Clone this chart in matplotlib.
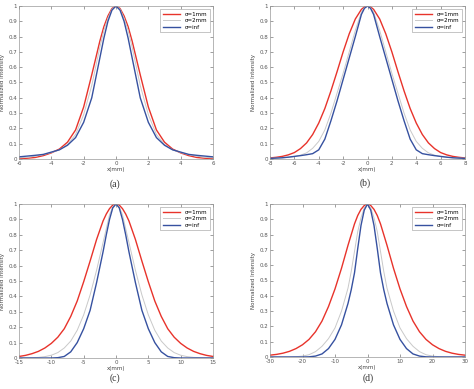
import matplotlib
matplotlib.use("Agg")
import matplotlib.pyplot as plt

xa = [-6, -5.5, -5, -4.5, -4, -3.5, -3, -2.5, -2, -1.5, -1, -0.75, -0.5, -0.25, 0,
      0.25, 0.5, 0.75, 1, 1.5, 2, 2.5, 3, 3.5, 4, 4.5, 5, 5.5, 6]
red_a = [0.002, 0.005, 0.01, 0.022, 0.04, 0.065, 0.11, 0.19, 0.34, 0.55, 0.77, 0.865, 0.935, 0.984, 1.0,
         0.984, 0.935, 0.865, 0.77, 0.55, 0.34, 0.19, 0.11, 0.065, 0.04, 0.022, 0.01, 0.005, 0.002]
gray_a = [0.007, 0.011, 0.018, 0.028, 0.042, 0.06, 0.095, 0.16, 0.29, 0.48, 0.73, 0.84, 0.92, 0.98, 1.0,
          0.98, 0.92, 0.84, 0.73, 0.48, 0.29, 0.16, 0.095, 0.06, 0.042, 0.028, 0.018, 0.011, 0.007]
blue_a = [0.014, 0.019, 0.024, 0.03, 0.045, 0.06, 0.09, 0.14, 0.24, 0.40, 0.66, 0.79, 0.90, 0.973, 1.0,
          0.973, 0.90, 0.79, 0.66, 0.40, 0.24, 0.14, 0.09, 0.06, 0.045, 0.03, 0.024, 0.019, 0.014]

xb = [-8, -7.5, -7, -6.5, -6, -5.5, -5, -4.5, -4, -3.5, -3, -2.5, -2, -1.5, -1, -0.5, -0.25, 0,
      0.25, 0.5, 1, 1.5, 2, 2.5, 3, 3.5, 4, 4.5, 5, 5.5, 6, 6.5, 7, 7.5, 8]
red_b = [0.007, 0.011, 0.017, 0.027, 0.042, 0.068, 0.105, 0.16, 0.235, 0.33, 0.445, 0.57, 0.70, 0.818, 0.915, 0.978, 0.994, 1.0,
         0.994, 0.978, 0.915, 0.818, 0.70, 0.57, 0.445, 0.33, 0.235, 0.16, 0.105, 0.068, 0.042, 0.027, 0.017, 0.011, 0.007]
gray_b = [0.005, 0.006, 0.008, 0.011, 0.016, 0.025, 0.04, 0.07, 0.115, 0.19, 0.30, 0.43, 0.56, 0.70, 0.84, 0.96, 0.99, 1.0,
          0.99, 0.96, 0.84, 0.70, 0.56, 0.43, 0.30, 0.19, 0.115, 0.07, 0.04, 0.025, 0.016, 0.011, 0.008, 0.006, 0.005]
blue_b = [0.004, 0.006, 0.008, 0.012, 0.017, 0.022, 0.028, 0.035, 0.06, 0.13, 0.25, 0.38, 0.52, 0.66, 0.80, 0.945, 0.985, 1.0,
          0.985, 0.945, 0.80, 0.66, 0.52, 0.38, 0.25, 0.13, 0.06, 0.035, 0.028, 0.022, 0.017, 0.012, 0.008, 0.006, 0.004]

xc = [-15, -14, -13, -12, -11, -10, -9, -8, -7, -6, -5, -4, -3, -2, -1.5, -1, -0.5, 0,
      0.5, 1, 1.5, 2, 3, 4, 5, 6, 7, 8, 9, 10, 11, 12, 13, 14, 15]
red_c = [0.01, 0.017, 0.028, 0.043, 0.065, 0.095, 0.135, 0.19, 0.27, 0.37, 0.495, 0.63, 0.77, 0.89, 0.935, 0.97, 0.993, 1.0,
         0.993, 0.97, 0.935, 0.89, 0.77, 0.63, 0.495, 0.37, 0.27, 0.19, 0.135, 0.095, 0.065, 0.043, 0.028, 0.017, 0.01]
gray_c = [0.0, 0.001, 0.002, 0.004, 0.009, 0.018, 0.035, 0.065, 0.11, 0.18, 0.28, 0.41, 0.57, 0.75, 0.84, 0.93, 0.982, 1.0,
          0.982, 0.93, 0.84, 0.75, 0.57, 0.41, 0.28, 0.18, 0.11, 0.065, 0.035, 0.018, 0.009, 0.004, 0.002, 0.001, 0.0]
blue_c = [0.0, 0.0, 0.0, 0.0, 0.0, 0.0, 0.002, 0.01, 0.04, 0.10, 0.19, 0.31, 0.49, 0.69, 0.80, 0.90, 0.975, 1.0,
          0.975, 0.90, 0.80, 0.69, 0.49, 0.31, 0.19, 0.10, 0.04, 0.01, 0.002, 0.0, 0.0, 0.0, 0.0, 0.0, 0.0]

xd = [-30, -28, -26, -24, -22, -20, -18, -16, -14, -12, -10, -8, -6, -5, -4, -3, -2, -1, 0,
      1, 2, 3, 4, 5, 6, 8, 10, 12, 14, 16, 18, 20, 22, 24, 26, 28, 30]
red_d = [0.012, 0.017, 0.025, 0.037, 0.055, 0.08, 0.115, 0.165, 0.235, 0.33, 0.445, 0.58, 0.73, 0.80, 0.87, 0.925, 0.965, 0.99, 1.0,
         0.99, 0.965, 0.925, 0.87, 0.80, 0.73, 0.58, 0.445, 0.33, 0.235, 0.165, 0.115, 0.08, 0.055, 0.037, 0.025, 0.017, 0.012]
gray_d = [0.0, 0.0, 0.0, 0.0, 0.002, 0.006, 0.015, 0.035, 0.07, 0.12, 0.19, 0.30, 0.45, 0.56, 0.69, 0.82, 0.91, 0.975, 1.0,
          0.975, 0.91, 0.82, 0.69, 0.56, 0.45, 0.30, 0.19, 0.12, 0.07, 0.035, 0.015, 0.006, 0.002, 0.0, 0.0, 0.0, 0.0]
blue_d = [0.0, 0.0, 0.0, 0.0, 0.0, 0.0, 0.001, 0.006, 0.02, 0.055, 0.115, 0.21, 0.35, 0.44, 0.55, 0.71, 0.86, 0.96, 1.0,
          0.96, 0.86, 0.71, 0.55, 0.44, 0.35, 0.21, 0.115, 0.055, 0.02, 0.006, 0.001, 0.0, 0.0, 0.0, 0.0, 0.0, 0.0]

panels = [
    ("(a)", xa, red_a, gray_a, blue_a, 6, [-6, -4, -2, 0, 2, 4, 6]),
    ("(b)", xb, red_b, gray_b, blue_b, 8, [-8, -6, -4, -2, 0, 2, 4, 6, 8]),
    ("(c)", xc, red_c, gray_c, blue_c, 15, [-15, -10, -5, 0, 5, 10, 15]),
    ("(d)", xd, red_d, gray_d, blue_d, 30, [-30, -20, -10, 0, 10, 20, 30]),
]
labels = ["σ=1mm", "σ=2mm", "σ=inf"]
yticks = [0, 0.1, 0.2, 0.3, 0.4, 0.5, 0.6, 0.7, 0.8, 0.9, 1]
ytl = ["0", "0.1", "0.2", "0.3", "0.4", "0.5", "0.6", "0.7", "0.8", "0.9", "1"]

W, H = 474, 389
boxes = [(19, 6, 213, 159), (270, 6, 465, 159), (19, 204, 213, 358), (270, 204, 465, 357)]
tags = [(115, 184), (365, 183), (115, 378), (368, 378)]

fig = plt.figure(figsize=(W / 100, H / 100), dpi=100)
for (tag, x, r, g, b, lim, xt), (l, t, rr, bb), (tx, ty) in zip(panels, boxes, tags):
    ax = fig.add_axes([l / W, 1 - bb / H, (rr - l) / W, (bb - t) / H])
    ax.plot(x, r, color="#e8332b", lw=1.0, label=labels[0])
    ax.plot(x, g, color="#c9c9c9", lw=0.7, label=labels[1])
    ax.plot(x, b, color="#3651a0", lw=1.0, label=labels[2])
    ax.set_xlim(-lim, lim); ax.set_ylim(0, 1)
    ax.set_xticks(xt); ax.set_xticklabels([str(v) for v in xt])
    ax.set_yticks(yticks); ax.set_yticklabels(ytl)
    ax.tick_params(direction="in", length=2, width=0.4, labelsize=4,
                   colors="#555555", pad=1.5, top=True, right=True)
    for s in ax.spines.values():
        s.set_linewidth(0.5); s.set_color("#999999")
    ax.set_xlabel("x(mm)", fontsize=4, color="#444444", labelpad=1)
    ax.set_ylabel("Normalized Intensity", fontsize=4, color="#444444", labelpad=2)
    leg = ax.legend(loc="upper right", fontsize=4, handlelength=3.2,
                    borderpad=0.4, labelspacing=0.3, fancybox=False,
                    framealpha=1, borderaxespad=0.6)
    leg.get_frame().set_linewidth(0.4); leg.get_frame().set_edgecolor("#999999")
    fig.text(tx / W, 1 - ty / H, tag, ha="center", va="center",
             fontsize=7, family="Liberation Serif", color="#333333")

fig.savefig("out.png", dpi=100)
